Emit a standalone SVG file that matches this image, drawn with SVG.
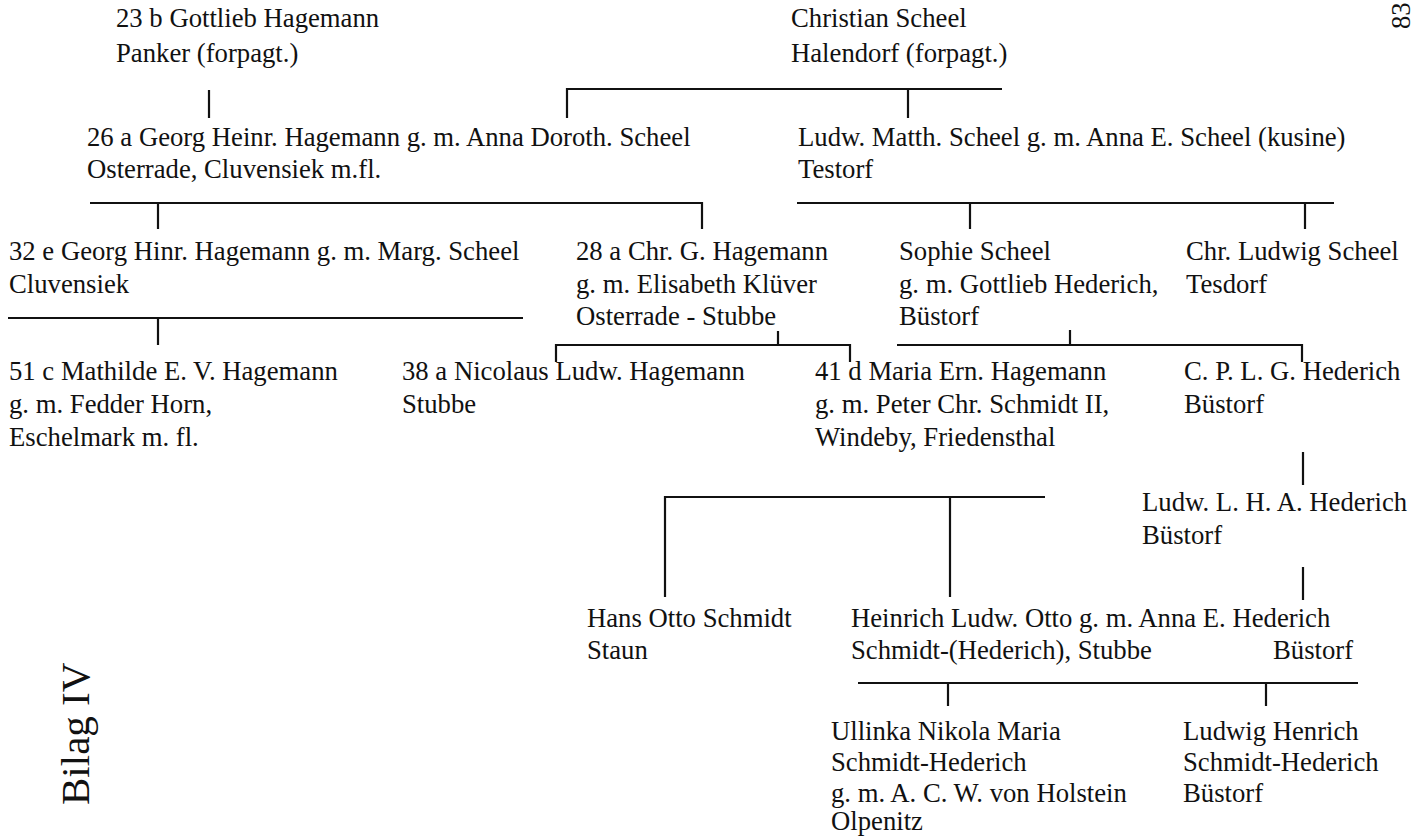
<svg xmlns="http://www.w3.org/2000/svg" width="1416" height="836" viewBox="0 0 1416 836">
<style>
text{font-family:"Liberation Serif","Times New Roman",serif;font-size:26.7px;fill:#111}
.c line{stroke:#111;stroke-width:2.2}
.big{font-size:41px}
</style>
<rect width="1416" height="836" fill="#fff"/>
<g class="c" id="connectors">
<line x1="209" y1="90" x2="209" y2="118"/>
<line x1="567" y1="89" x2="1002" y2="89"/>
<line x1="567" y1="88" x2="567" y2="118"/>
<line x1="908" y1="89" x2="908" y2="118"/>
<line x1="90" y1="203" x2="703" y2="203"/>
<line x1="158" y1="203" x2="158" y2="229"/>
<line x1="702" y1="202" x2="702" y2="229"/>
<line x1="797" y1="203" x2="1334" y2="203"/>
<line x1="970" y1="203" x2="970" y2="229"/>
<line x1="1305" y1="203" x2="1305" y2="229"/>
<line x1="8" y1="318" x2="523" y2="318"/>
<line x1="158" y1="318" x2="158" y2="345"/>
<line x1="556" y1="345" x2="851" y2="345"/>
<line x1="778" y1="331" x2="778" y2="345"/>
<line x1="556" y1="344" x2="556" y2="362"/>
<line x1="850" y1="344" x2="850" y2="362"/>
<line x1="897" y1="345" x2="1303" y2="345"/>
<line x1="1070" y1="330" x2="1070" y2="345"/>
<line x1="1302" y1="344" x2="1302" y2="362"/>
<line x1="665" y1="497" x2="1045" y2="497"/>
<line x1="665" y1="496" x2="665" y2="597"/>
<line x1="950" y1="497" x2="950" y2="597"/>
<line x1="1303" y1="452" x2="1303" y2="485"/>
<line x1="1303" y1="567" x2="1303" y2="600"/>
<line x1="858" y1="683" x2="1358" y2="683"/>
<line x1="948" y1="683" x2="948" y2="706"/>
<line x1="1266" y1="683" x2="1266" y2="706"/>
</g>
<g id="n-23b"><text x="116" y="27">23 b Gottlieb Hagemann</text><text x="116" y="62">Panker (forpagt.)</text></g>
<g id="n-christian"><text x="791" y="27">Christian Scheel</text><text x="791" y="62">Halendorf (forpagt.)</text></g>
<g id="n-26a"><text x="87" y="146">26 a Georg Heinr. Hagemann g. m. Anna Doroth. Scheel</text><text x="87" y="178">Osterrade, Cluvensiek m.fl.</text></g>
<g id="n-ludw-matth"><text x="798" y="146">Ludw. Matth. Scheel g. m. Anna E. Scheel (kusine)</text><text x="798" y="178">Testorf</text></g>
<g id="n-32e"><text x="9" y="260">32 e Georg Hinr. Hagemann g. m. Marg. Scheel</text><text x="9" y="293">Cluvensiek</text></g>
<g id="n-28a"><text x="576" y="260">28 a Chr. G. Hagemann</text><text x="576" y="293">g. m. Elisabeth Klüver</text><text x="576" y="325">Osterrade - Stubbe</text></g>
<g id="n-sophie"><text x="899" y="260">Sophie Scheel</text><text x="899" y="293">g. m. Gottlieb Hederich,</text><text x="899" y="325">Büstorf</text></g>
<g id="n-chr-ludwig"><text x="1186" y="260">Chr. Ludwig Scheel</text><text x="1186" y="293">Tesdorf</text></g>
<g id="n-51c"><text x="9" y="380">51 c Mathilde E. V. Hagemann</text><text x="9" y="413">g. m. Fedder Horn,</text><text x="9" y="446">Eschelmark m. fl.</text></g>
<g id="n-38a"><text x="402" y="380">38 a Nicolaus Ludw. Hagemann</text><text x="402" y="413">Stubbe</text></g>
<g id="n-41d"><text x="815" y="380">41 d Maria Ern. Hagemann</text><text x="815" y="413">g. m. Peter Chr. Schmidt II,</text><text x="815" y="446">Windeby, Friedensthal</text></g>
<g id="n-cplg"><text x="1184" y="380">C. P. L. G. Hederich</text><text x="1184" y="413">Büstorf</text></g>
<g id="n-ludw-l"><text x="1142" y="511">Ludw. L. H. A. Hederich</text><text x="1142" y="544">Büstorf</text></g>
<g id="n-hans-otto"><text x="587" y="627">Hans Otto Schmidt</text><text x="587" y="659">Staun</text></g>
<g id="n-heinrich"><text x="851" y="627">Heinrich Ludw. Otto g. m. Anna E. Hederich</text><text x="851" y="659">Schmidt-(Hederich), Stubbe</text><text x="1273" y="659">Büstorf</text></g>
<g id="n-ullinka"><text x="831" y="740">Ullinka Nikola Maria</text><text x="831" y="771">Schmidt-Hederich</text><text x="831" y="802">g. m.  A. C. W. von Holstein</text><text x="831" y="830">Olpenitz</text></g>
<g id="n-ludwig-henrich"><text x="1183" y="740">Ludwig Henrich</text><text x="1183" y="771">Schmidt-Hederich</text><text x="1183" y="802">Büstorf</text></g>
<g id="label-bilag"><text class="big" transform="translate(89,805) rotate(-90)">Bilag IV</text></g>
<g id="page-number"><text transform="translate(1410,29) rotate(-90)">83</text></g>
</svg>
